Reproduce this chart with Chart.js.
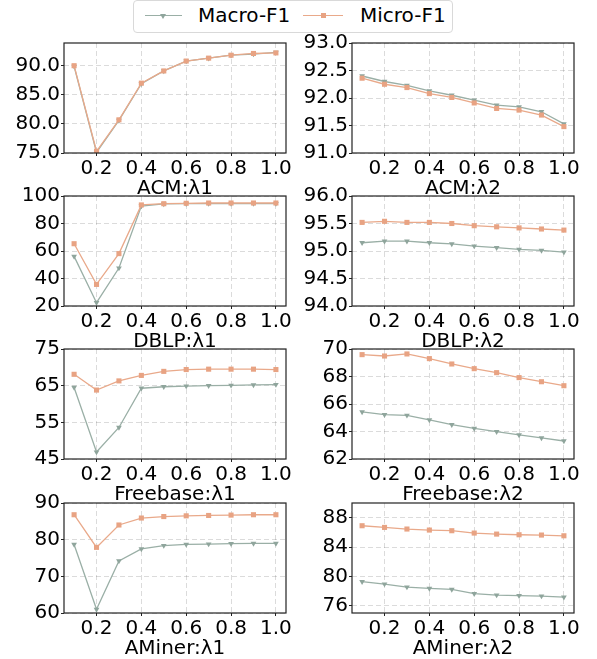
<!DOCTYPE html>
<html>
<head>
<meta charset="utf-8">
<script src="https://cdn.jsdelivr.net/npm/chart.js@4.4.1/dist/chart.umd.min.js"></script>
<style>
	body { margin: 0; background: #fff; }
	#wrap { position: relative; width: 597px; height: 659px; font-family: "DejaVu Sans", sans-serif; }
	#wrap canvas { position: absolute; }
	#legend { position: absolute; left: 133px; top: 0px; width: 318px; height: 31px; border: 1px solid #d9d9d9; border-radius: 4px; background: #fff; }
	.lg-line { position: absolute; top: 14px; height: 0; border-top: 1.3px solid; }
	.lg-text { position: absolute; top: 2px; font-size: 20px; color: #000; line-height: 24px; }
	.lg-tri { position: absolute; top: 13px; width: 0; height: 0; border-left: 3px solid transparent; border-right: 3px solid transparent; border-top: 5px solid; }
	.lg-sq { position: absolute; top: 12px; width: 5px; height: 5px; }
</style>
</head>
<body>
<div id="wrap">
	<div id="legend">
		<div class="lg-line" style="left:11px;width:37px;border-color:#9aafa6"></div>
		<div class="lg-tri" style="left:26px;border-top-color:#8fa59c"></div>
		<div class="lg-text" style="left:64px">Macro-F1</div>
		<div class="lg-line" style="left:169px;width:40px;border-color:#e9a98a"></div>
		<div class="lg-sq" style="left:187px;background:#e8a383"></div>
		<div class="lg-text" style="left:226px">Micro-F1</div>
	</div>
</div>
<script>
// x values (lambda)
const lambdas = [0.1, 0.2, 0.3, 0.4, 0.5, 0.6, 0.7, 0.8, 0.9, 1.0];
const xTicks = [0.2, 0.4, 0.6, 0.8, 1.0];

// ACM
const acm1Macro = [89.9, 75.1, 80.6, 86.9, 89.1, 90.8, 91.3, 91.8, 92.0, 92.3];
const acm1Micro = [90.0, 75.3, 80.7, 87.0, 89.1, 90.8, 91.3, 91.8, 92.1, 92.2];
const acm2Macro = [92.40, 92.30, 92.23, 92.13, 92.05, 91.96, 91.87, 91.84, 91.75, 91.53];
const acm2Micro = [92.36, 92.25, 92.19, 92.08, 92.01, 91.91, 91.81, 91.78, 91.69, 91.48];
// DBLP
const dblp1Macro = [56.1, 22.4, 47.6, 92.7, 94.2, 94.4, 94.5, 94.5, 94.5, 94.5];
const dblp1Micro = [65.3, 35.7, 58.1, 93.5, 94.4, 94.7, 94.9, 94.9, 94.9, 94.9];
const dblp2Macro = [95.15, 95.18, 95.18, 95.15, 95.13, 95.09, 95.06, 95.03, 95.01, 94.98];
const dblp2Micro = [95.52, 95.54, 95.52, 95.52, 95.50, 95.46, 95.44, 95.42, 95.40, 95.38];
// Freebase
const fb1Macro = [64.5, 46.9, 53.6, 64.3, 64.7, 64.9, 65.0, 65.1, 65.2, 65.3];
const fb1Micro = [68.1, 63.8, 66.3, 67.8, 68.9, 69.4, 69.5, 69.5, 69.5, 69.4];
const fb2Macro = [65.42, 65.22, 65.18, 64.84, 64.50, 64.23, 63.99, 63.75, 63.53, 63.31];
const fb2Micro = [69.59, 69.49, 69.64, 69.30, 68.91, 68.57, 68.28, 67.92, 67.62, 67.33];
// AMiner
const am1Macro = [78.7, 61.0, 74.2, 77.5, 78.4, 78.7, 78.8, 78.9, 79.0, 79.0];
const am1Micro = [86.8, 77.9, 84.0, 85.9, 86.3, 86.5, 86.6, 86.7, 86.8, 86.8];
const am2Macro = [79.27, 78.95, 78.54, 78.36, 78.22, 77.63, 77.45, 77.36, 77.31, 77.17];
const am2Micro = [86.90, 86.67, 86.45, 86.31, 86.22, 85.90, 85.76, 85.67, 85.63, 85.53];

// y tick labels per panel
const acm1Ticks = [75, 80, 85, 90];
const acm2Ticks = [91, 91.5, 92, 92.5, 93];
const dblp1Ticks = [20, 40, 60, 80, 100];
const dblp2Ticks = [94, 94.5, 95, 95.5, 96];
const fb1Ticks = [45, 55, 65, 75];
const fb2Ticks = [62, 64, 66, 68, 70];
const am1Ticks = [60, 70, 80, 90];
const am2Ticks = [76, 80, 84, 88];

const panels = [
	{ title: "ACM:λ1",      macro: acm1Macro,  micro: acm1Micro,  ticks: acm1Ticks,  min: 75, max: 93.9, dec: 1, row: 0, col: 0 },
	{ title: "ACM:λ2",      macro: acm2Macro,  micro: acm2Micro,  ticks: acm2Ticks,  min: 91, max: 93,   dec: 1, row: 0, col: 1 },
	{ title: "DBLP:λ1",     macro: dblp1Macro, micro: dblp1Micro, ticks: dblp1Ticks, min: 20, max: 100,  dec: 0, row: 1, col: 0 },
	{ title: "DBLP:λ2",     macro: dblp2Macro, micro: dblp2Micro, ticks: dblp2Ticks, min: 94, max: 96,   dec: 1, row: 1, col: 1 },
	{ title: "Freebase:λ1", macro: fb1Macro,   micro: fb1Micro,   ticks: fb1Ticks,   min: 45, max: 75,   dec: 0, row: 2, col: 0 },
	{ title: "Freebase:λ2", macro: fb2Macro,   micro: fb2Micro,   ticks: fb2Ticks,   min: 62, max: 70,   dec: 0, row: 2, col: 1 },
	{ title: "AMiner:λ1",   macro: am1Macro,   micro: am1Micro,   ticks: am1Ticks,   min: 60, max: 90,   dec: 0, row: 3, col: 0 },
	{ title: "AMiner:λ2",   macro: am2Macro,   micro: am2Micro,   ticks: am2Ticks,   min: 75, max: 90,   dec: 0, row: 3, col: 1 }
];

// layout of the grid (pixels)
const cols = [{ x: 0, w: 297, plotL: 64, plotR: 286 }, { x: 297, w: 300, plotL: 352, plotR: 574 }];
const rowTops = [43, 196, 349, 503];
const plotH = 110, padTop = 14, xAxisH = 52;

const FONT = "'DejaVu Sans', sans-serif";
const MACRO = "#9aafa6", MICRO = "#e9a98a";

const frame = {
	id: "frame",
	afterDatasetsDraw(chart) {
		const a = chart.chartArea, ctx = chart.ctx;
		ctx.save();
		ctx.strokeStyle = "#222";
		ctx.lineWidth = 1.2;
		ctx.strokeRect(a.left, a.top, a.right - a.left, a.bottom - a.top);
		ctx.restore();
	}
};

const wrap = document.getElementById("wrap");

panels.forEach(p => {
	const c = cols[p.col];
	const cv = document.createElement("canvas");
	cv.width = c.w;
	cv.height = padTop + plotH + xAxisH;
	cv.style.left = c.x + "px";
	cv.style.top = (rowTops[p.row] - padTop) + "px";
	wrap.appendChild(cv);

	new Chart(cv.getContext("2d"), {
		type: "line",
		data: {
			datasets: [{
				label: "Macro-F1",
				data: lambdas.map((x, i) => ({ x: x, y: p.macro[i] })),
				borderColor: MACRO,
				backgroundColor: "#8fa59c",
				borderWidth: 1.3,
				pointStyle: "triangle",
				rotation: 180,
				pointRadius: 3.3,
				pointBorderWidth: 0,
				order: 1
			}, {
				label: "Micro-F1",
				data: lambdas.map((x, i) => ({ x: x, y: p.micro[i] })),
				borderColor: MICRO,
				backgroundColor: "#e8a383",
				borderWidth: 1.3,
				pointStyle: "rect",
				pointRadius: 3.6,
				pointBorderWidth: 0,
				order: 0
			}]
		},
		options: {
			responsive: false,
			animation: false,
			layout: { padding: { top: padTop, left: 0, right: c.x + c.w - c.plotR, bottom: 0 } },
			plugins: { legend: { display: false }, tooltip: { enabled: false } },
			scales: {
				x: {
					type: "linear",
					min: 0.055, max: 1.045,
					afterBuildTicks: s => { s.ticks = xTicks.map(v => ({ value: v })); },
					afterFit: s => { s.height = xAxisH; },
					ticks: { color: "#000", padding: 1, font: { family: FONT, size: 20 }, callback: v => v.toFixed(1) },
					grid: { color: "rgba(0,0,0,0.14)", tickColor: "#222", tickLength: 3 },
					border: { display: false, dash: [5, 3] },
					title: { display: true, text: p.title, color: "#000", font: { family: FONT, size: 20 }, padding: { top: 0, bottom: 4 } }
				},
				y: {
					min: p.min, max: p.max,
					afterBuildTicks: s => { s.ticks = p.ticks.map(v => ({ value: v })); },
					afterFit: s => { s.width = c.plotL - c.x; },
					ticks: { color: "#000", padding: 1, font: { family: FONT, size: 20 }, callback: v => v.toFixed(p.dec) },
					grid: { color: "rgba(0,0,0,0.14)", tickColor: "#222", tickLength: 3 },
					border: { display: false, dash: [5, 3] }
				}
			}
		},
		plugins: [frame]
	});
});
</script>
</body>
</html>
